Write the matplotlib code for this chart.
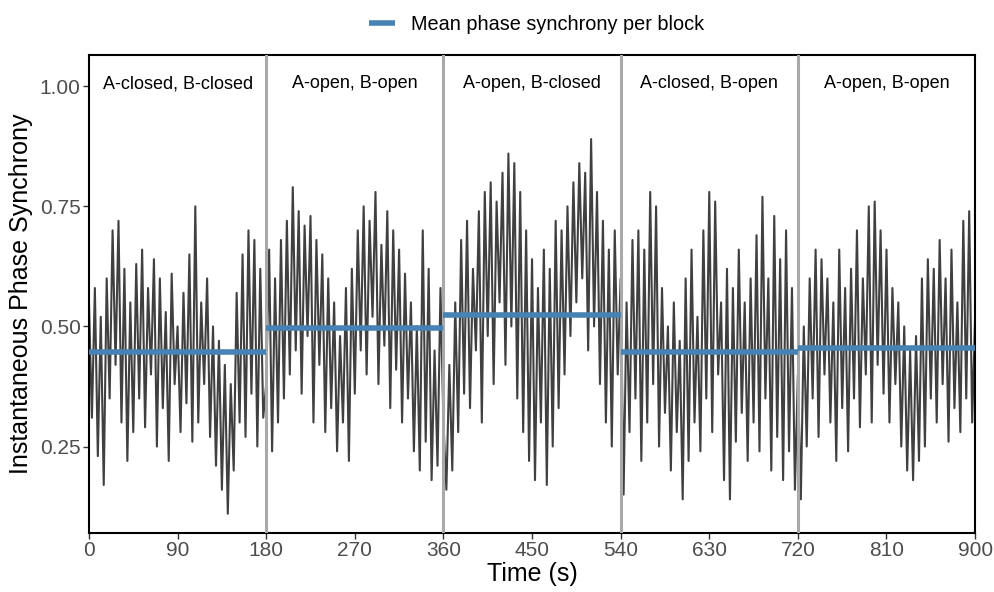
import matplotlib
matplotlib.use("Agg")
import matplotlib.pyplot as plt
import numpy as np

plt.rcParams['font.family'] = ['Liberation Sans', 'DejaVu Sans']

# sampled every 3 s
step = 3
sync_block1 = [0.55, 0.31, 0.58, 0.23, 0.52, 0.17, 0.60, 0.35, 0.70, 0.42, 0.72, 0.30, 0.62, 0.22, 0.55,
               0.28, 0.63, 0.35, 0.66, 0.29, 0.58, 0.40, 0.64, 0.25, 0.60, 0.33, 0.53, 0.22, 0.61, 0.38,
               0.50, 0.28, 0.57, 0.34, 0.65, 0.26, 0.75, 0.30, 0.55, 0.38, 0.60, 0.27, 0.50, 0.21, 0.47,
               0.16, 0.42, 0.11, 0.38, 0.20, 0.57, 0.30, 0.65, 0.27, 0.70, 0.36, 0.68, 0.25, 0.62, 0.31]
sync_block2 = [0.38, 0.66, 0.24, 0.60, 0.30, 0.68, 0.35, 0.72, 0.40, 0.79, 0.45, 0.74, 0.36, 0.71, 0.48,
               0.73, 0.30, 0.68, 0.42, 0.65, 0.28, 0.60, 0.33, 0.55, 0.24, 0.48, 0.30, 0.58, 0.22, 0.62,
               0.36, 0.70, 0.45, 0.75, 0.40, 0.72, 0.52, 0.78, 0.38, 0.67, 0.46, 0.74, 0.33, 0.70, 0.41,
               0.66, 0.30, 0.61, 0.35, 0.55, 0.24, 0.50, 0.20, 0.70, 0.26, 0.62, 0.18, 0.45, 0.21, 0.58]
sync_block3 = [0.30, 0.16, 0.42, 0.20, 0.55, 0.28, 0.68, 0.36, 0.72, 0.33, 0.62, 0.45, 0.74, 0.30, 0.78,
               0.48, 0.80, 0.38, 0.76, 0.55, 0.82, 0.42, 0.86, 0.50, 0.84, 0.35, 0.78, 0.28, 0.70, 0.22,
               0.64, 0.18, 0.58, 0.30, 0.66, 0.17, 0.62, 0.25, 0.72, 0.33, 0.70, 0.40, 0.75, 0.48, 0.80,
               0.55, 0.84, 0.60, 0.82, 0.45, 0.89, 0.50, 0.78, 0.38, 0.72, 0.30, 0.66, 0.25, 0.70, 0.40]
sync_block4 = [0.60, 0.15, 0.55, 0.28, 0.68, 0.35, 0.70, 0.22, 0.66, 0.30, 0.78, 0.38, 0.75, 0.25, 0.58,
               0.32, 0.50, 0.20, 0.55, 0.28, 0.47, 0.14, 0.60, 0.22, 0.66, 0.30, 0.52, 0.24, 0.70, 0.35,
               0.78, 0.28, 0.76, 0.40, 0.55, 0.18, 0.62, 0.14, 0.58, 0.26, 0.66, 0.32, 0.55, 0.22, 0.60,
               0.30, 0.69, 0.24, 0.77, 0.35, 0.60, 0.20, 0.73, 0.27, 0.64, 0.18, 0.70, 0.24, 0.58, 0.16]
sync_block5 = [0.40, 0.14, 0.50, 0.25, 0.60, 0.35, 0.66, 0.27, 0.64, 0.40, 0.60, 0.30, 0.55, 0.22, 0.66,
               0.33, 0.58, 0.24, 0.62, 0.35, 0.70, 0.29, 0.60, 0.40, 0.75, 0.30, 0.76, 0.42, 0.70, 0.36,
               0.66, 0.30, 0.58, 0.38, 0.55, 0.25, 0.50, 0.20, 0.45, 0.18, 0.48, 0.22, 0.60, 0.25, 0.64,
               0.35, 0.62, 0.30, 0.68, 0.38, 0.60, 0.26, 0.66, 0.33, 0.55, 0.28, 0.72, 0.35, 0.74, 0.30, 0.52]

block_labels = ["A-closed, B-closed", "A-open, B-open", "A-open, B-closed", "A-closed, B-open", "A-open, B-open"]
block_edges = [0, 180, 360, 540, 720, 900]
block_means = [0.446, 0.496, 0.523, 0.446, 0.456]

sync = sync_block1 + sync_block2 + sync_block3 + sync_block4 + sync_block5
t = np.arange(len(sync)) * step

fig = plt.figure(figsize=(9.94, 5.92), dpi=100)
ax = fig.add_axes([0.0895, 0.0997, 0.8915, 0.8073])

ax.plot(t, sync, color='#404040', lw=1.5, zorder=2)
for e in block_edges[1:-1]:
    ax.axvline(e, color='#a9a9a9', lw=2.2, zorder=3)
for i, m in enumerate(block_means):
    lab = "Mean phase synchrony per block" if i == 0 else None
    ax.plot([block_edges[i], block_edges[i + 1]], [m, m], color='#4682b4', lw=4,
            solid_capstyle='butt', zorder=4, label=lab)
    ax.text((block_edges[i] + block_edges[i + 1]) / 2, 1.005, block_labels[i],
            ha='center', va='center', fontsize=13, color='black')

ax.set_xlim(0, 900)
ax.set_ylim(0.07, 1.065)
ax.set_xticks(range(0, 901, 90))
ax.set_yticks([0.25, 0.50, 0.75, 1.00])
ax.set_yticklabels(["0.25", "0.50", "0.75", "1.00"])
ax.tick_params(labelsize=15, colors='#4d4d4d', length=4, width=1, pad=2)
ax.tick_params(axis='both', which='both', color='#333333')
for s in ax.spines.values():
    s.set_linewidth(1.5)
    s.set_color('black')
ax.set_xlabel("Time (s)", fontsize=18, labelpad=1)
ax.set_ylabel("Instantaneous Phase Synchrony", fontsize=18, labelpad=5)

fig.legend(loc='upper center', bbox_to_anchor=(0.54, 1.005), frameon=False, fontsize=14.3,
           handlelength=1.3, handletextpad=0.8)

plt.savefig("out.png", dpi=100)
